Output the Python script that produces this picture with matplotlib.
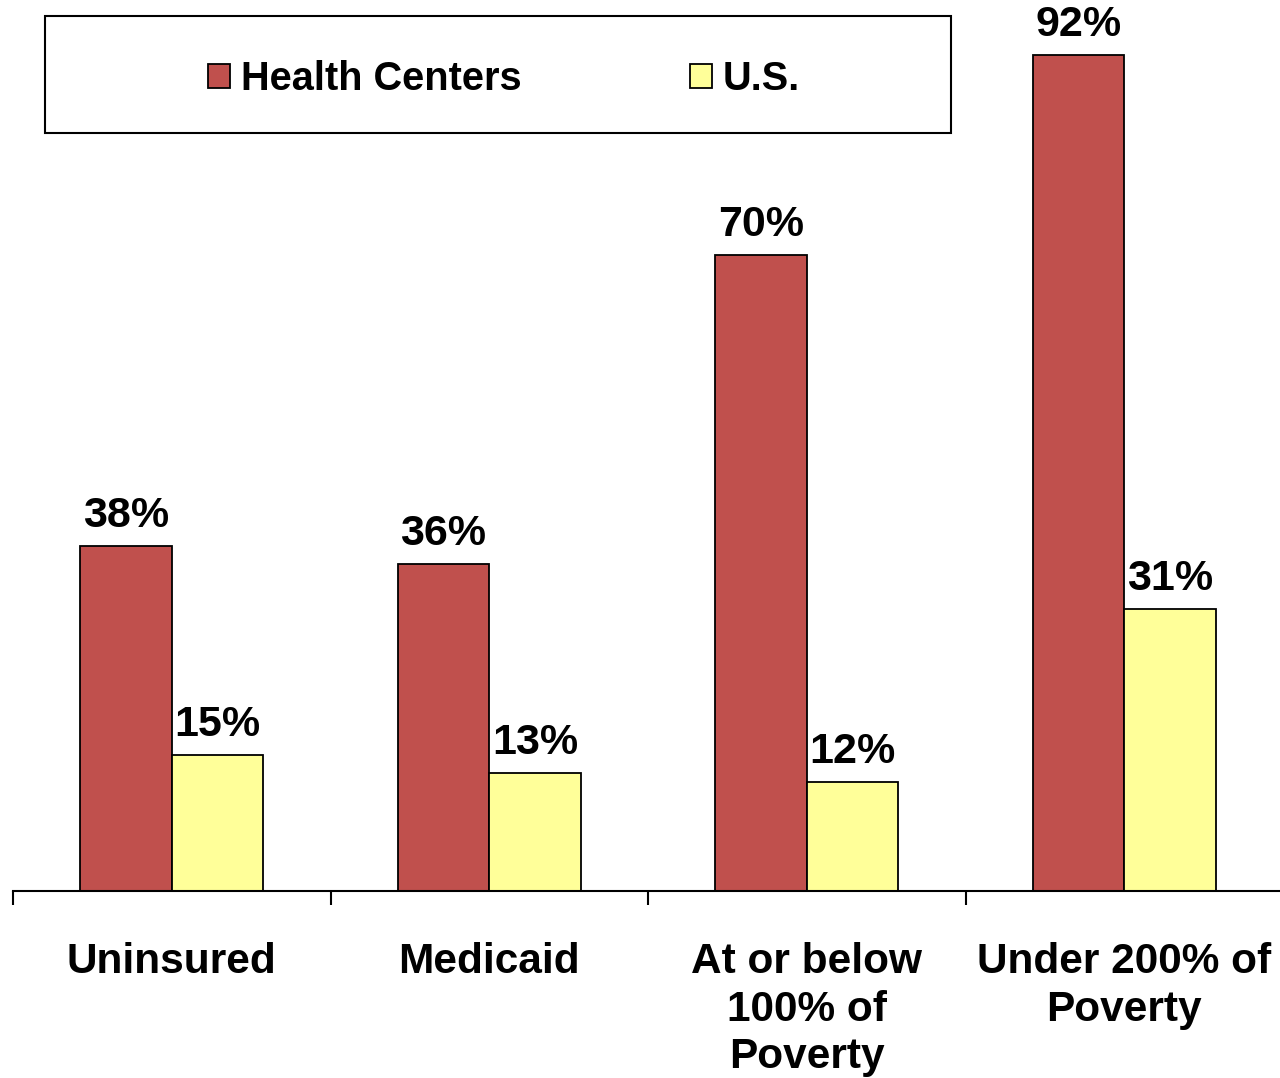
import matplotlib.pyplot as plt
import matplotlib.patches as mpatches
import numpy as np

plt.rcParams['font.family'] = ['Liberation Sans', 'DejaVu Sans']
plt.rcParams['font.weight'] = 'bold'

# Dados
categorias = ["Uninsured", "Medicaid", "At or below\n100% of\nPoverty", "Under 200% of\nPoverty"]
health_centers = [38, 36, 70, 92]
us = [15, 13, 12, 31]
series = ["Health Centers", "U.S."]

cor_hc = "#C0504D"
cor_us = "#FFFF99"

fig = plt.figure(figsize=(12.8, 10.78), dpi=100)
ax = fig.add_axes([13 / 1280, 187 / 1078, 1270 / 1280, 891 / 1078])

x = np.arange(len(categorias))
larg = 0.288
b1 = ax.bar(x - larg / 2, health_centers, larg, color=cor_hc, edgecolor="black", linewidth=1.3, label=series[0])
b2 = ax.bar(x + larg / 2, us, larg, color=cor_us, edgecolor="black", linewidth=1.3, label=series[1])

ax.bar_label(b1, labels=[f"{v}%" for v in health_centers], padding=7, fontsize=31, fontweight="bold")
ax.bar_label(b2, labels=[f"{v}%" for v in us], padding=7, fontsize=31, fontweight="bold")

ax.set_xlim(-0.5, len(categorias) - 0.5)
ax.set_ylim(0, 98)

for s in ["left", "top", "right"]:
    ax.spines[s].set_visible(False)
ax.spines["bottom"].set_linewidth(1.5)
ax.set_yticks([])

# ticks nas divisões das categorias, rótulos no centro
ax.set_xticks(x - 0.5)
ax.set_xticklabels([])
ax.tick_params(axis="x", which="major", length=10, width=1.5, direction="out")
ax.set_xticks(x, categorias, minor=True)
ax.tick_params(axis="x", which="minor", length=0, pad=37)
for t in ax.get_xticklabels(minor=True):
    t.set_fontsize(30.5)
    t.set_fontweight("bold")
    t.set_linespacing(1.23)
    t.set_verticalalignment("top")

# Caixa da legenda
caixa = mpatches.Rectangle((45 / 1280, 1 - 133 / 1078), 906 / 1280, 117 / 1078,
                           transform=fig.transFigure, facecolor="white",
                           edgecolor="black", linewidth=1.5, zorder=5)
fig.patches.append(caixa)

leg = fig.legend(handles=[b1, b2], labels=series, ncol=2, frameon=False,
                 loc="center", bbox_to_anchor=(504 / 1280, 1 - 79 / 1078),
                 fontsize=28.6, handlelength=0.55, handleheight=0.55,
                 handletextpad=0.28, columnspacing=4.25, borderpad=0)
leg.set_zorder(6)
for t in leg.get_texts():
    t.set_fontweight("bold")

fig.savefig("out.png", dpi=100)
